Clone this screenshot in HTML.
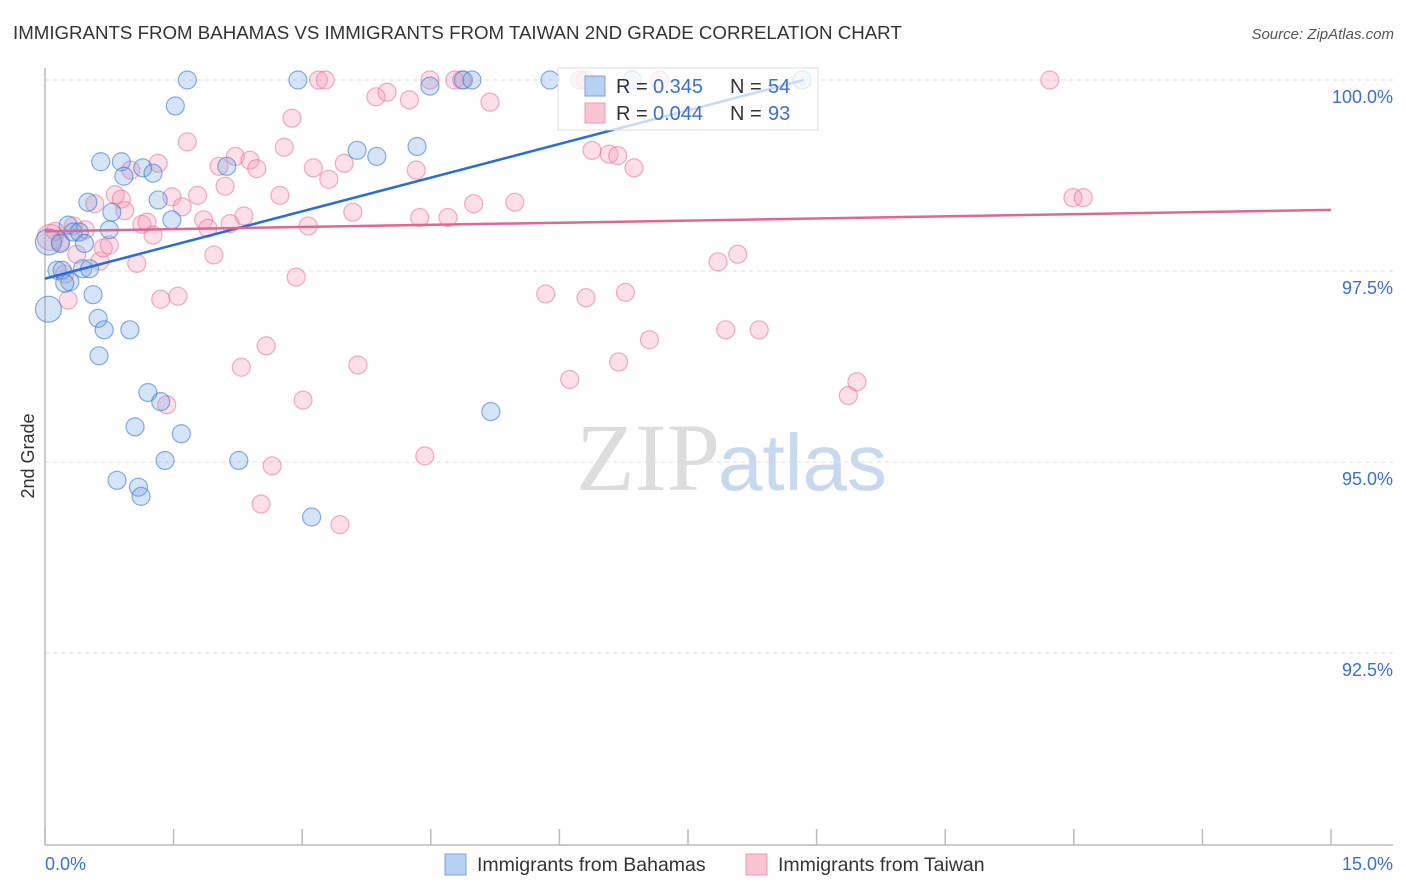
<!DOCTYPE html>
<html><head><meta charset="utf-8">
<style>
body{margin:0;background:#fff;font-family:"Liberation Sans",sans-serif;}
#wrap{position:relative;width:1406px;height:892px;overflow:hidden;}
</style></head>
<body>
<div id="wrap">
<svg id="chart" width="1406" height="892"></svg>
</div>
<script>
const xTicks=[0,1.5,3,4.5,6,7.5,9,10.5,12,13.5,15];
const yTicks=[100,97.5,95,92.5];
const yTickLabels=["100.0%","97.5%","95.0%","92.5%"];
const bahamasX=[0.04,0.04,0.14,0.2,0.27,0.29,0.33,0.4,0.44,0.52,0.56,0.5,0.65,0.62,0.69,0.63,0.75,0.78,0.89,0.92,0.99,1.14,1.26,1.32,1.48,1.52,1.66,1.2,1.35,1.05,1.59,1.4,0.84,1.09,1.12,2.12,2.26,2.95,3.11,3.64,3.87,4.34,4.49,4.88,4.98,5.2,5.89,6.85,8.83,0.18,0.46,0.23];
const bahamasY=[97.88,97.0,97.51,97.51,98.1,97.36,98.01,98.01,97.53,97.53,97.19,98.4,98.93,96.88,96.73,96.39,98.04,98.27,98.93,98.74,96.73,98.85,98.78,98.43,98.17,99.66,100,95.91,95.79,95.46,95.37,95.02,94.76,94.67,94.55,98.87,95.02,100,94.28,99.08,99.0,99.13,99.92,100,100,95.66,100,100,100,97.86,97.86,97.34];
const taiwanX=[0.06,0.12,0.18,0.23,0.27,0.33,0.37,0.47,0.58,0.64,0.68,0.75,0.82,0.89,0.93,1.0,1.07,1.13,1.19,1.26,1.32,1.35,1.48,1.55,1.6,1.66,1.42,1.78,1.85,1.9,1.97,2.03,2.1,2.16,2.22,2.29,2.32,2.39,2.47,2.58,2.65,2.52,2.74,2.79,2.88,2.93,3.01,3.07,3.13,3.19,3.27,3.31,3.44,3.49,3.59,3.65,3.86,3.99,4.25,4.33,4.37,4.43,4.49,4.7,4.78,4.86,5.0,5.19,5.48,5.84,6.12,6.31,6.38,6.58,6.68,6.69,6.77,6.87,7.05,7.17,7.85,7.94,8.08,8.33,9.37,9.47,11.72,11.99,12.11,6.3,6.24];
const taiwanY=[97.94,98.02,97.88,97.46,97.12,98.09,97.72,98.04,98.38,97.63,97.8,97.84,98.5,98.44,98.29,98.82,97.6,98.11,98.14,97.97,98.91,97.13,98.47,97.17,98.34,99.19,95.75,98.49,98.17,98.06,97.71,98.87,98.61,98.12,99.0,96.24,98.22,98.95,98.84,96.52,94.95,94.45,98.49,99.12,99.5,97.42,95.81,98.09,98.85,100,100,98.7,94.18,98.91,98.27,96.27,99.78,99.84,99.74,98.82,98.2,95.08,100,98.2,100,100,98.38,99.71,98.4,97.2,96.08,97.15,99.08,99.03,99.01,96.31,97.22,98.85,96.6,100,97.62,96.73,97.72,96.73,95.87,96.05,100,98.46,98.46,100,100];
const bahamasTrend=[97.4,100];
const bahamasTrendX=[0,8.85];
const taiwanTrend=[98.02,98.3];
const taiwanTrendX=[0,15];

const NS="http://www.w3.org/2000/svg";
const svg=document.getElementById('chart');
const X0=45,X1=1331,Y100=80,PXY=76.4;
const sx=v=>X0+(v/15)*(X1-X0);
const sy=v=>Y100+(100-v)*PXY;
function mk(tag,attrs,parent){const e=document.createElementNS(NS,tag);for(const k in attrs)e.setAttribute(k,attrs[k]);(parent||svg).appendChild(e);return e;}

let t=mk('text',{x:13,y:39,'font-size':18.7,fill:'#333'});


t.textContent='IMMIGRANTS FROM BAHAMAS VS IMMIGRANTS FROM TAIWAN 2ND GRADE CORRELATION CHART';
t=mk('text',{x:1394,y:39,'font-size':15,fill:'#555','text-anchor':'end','font-style':'italic'});


t.textContent='Source: ZipAtlas.com';

t=mk('text',{x:720,y:490,'font-size':96,'text-anchor':'end',fill:'#ddd','font-family':'Liberation Serif, serif'});


t.textContent='ZIP';
t=mk('text',{x:718,y:490,'font-size':80,fill:'#c8d8ee'});


t.textContent='atlas';

yTicks.forEach((v,i)=>{
  const g=mk('line',{x1:X0,x2:1393,y1:sy(v),y2:sy(v),stroke:'#ddd','stroke-dasharray':'4,4'});
  
  
  const l=mk('text',{x:1393,y:sy(v)+23,'font-size':18,fill:'#3b6fd1','text-anchor':'end'});
  
  
  l.textContent=yTickLabels[i];
});
let ax=mk('line',{x1:X0,x2:X0,y1:68,y2:845,stroke:'#bbb','stroke-width':1.5});


ax=mk('line',{x1:X0,x2:1393,y1:845,y2:845,stroke:'#bbb','stroke-width':1.5});


xTicks.forEach(v=>{
  const k=mk('line',{x1:sx(v),x2:sx(v),y1:829,y2:845,stroke:'#bbb','stroke-width':1.5});
  
  
});
t=mk('text',{x:45,y:870,'font-size':18,fill:'#3b6fd1'});


t.textContent='0.0%';
t=mk('text',{x:1393,y:870,'font-size':18,fill:'#3b6fd1','text-anchor':'end'});


t.textContent='15.0%';
t=mk('text',{x:34,y:456,'font-size':18,fill:'#333','text-anchor':'middle',transform:'rotate(-90 34 456)'});


t.textContent='2nd Grade';

taiwanX.forEach((x,i)=>{
  const c=mk('circle',{cx:sx(x),cy:sy(taiwanY[i]),r:i===0?13:9,fill:'rgba(244,150,180,0.3)',stroke:'rgba(232,110,150,0.55)','stroke-width':1.2});
  
  
});
bahamasX.forEach((x,i)=>{
  const c=mk('circle',{cx:sx(x),cy:sy(bahamasY[i]),r:i<2?13:9,fill:'rgba(120,165,230,0.3)',stroke:'rgba(60,120,210,0.6)','stroke-width':1.2});
  
  
});
let ln=mk('line',{x1:sx(bahamasTrendX[0]),y1:sy(bahamasTrend[0]),x2:sx(bahamasTrendX[1]),y2:sy(bahamasTrend[1]),stroke:'#2a6dd6','stroke-width':2.5});


ln=mk('line',{x1:sx(taiwanTrendX[0]),y1:sy(taiwanTrend[0]),x2:sx(taiwanTrendX[1]),y2:sy(taiwanTrend[1]),stroke:'#e4668f','stroke-width':2.5});



const lg=mk('g',{});


mk('rect',{x:558,y:68,width:260,height:62,fill:'rgba(255,255,255,0.75)',stroke:'#ddd'},lg);
mk('rect',{x:585,y:76,width:20,height:20,fill:'#b8d0f2',stroke:'#7aa3e0'},lg);
mk('rect',{x:585,y:103,width:20,height:20,fill:'#f9c4d4',stroke:'#f09ab5'},lg);
[["0.345","54",93],["0.044","93",120]].forEach(r=>{
  let a=mk('text',{x:616,y:r[2],'font-size':20,fill:'#333'},lg);a.textContent='R = ';
  a=mk('text',{x:653,y:r[2],'font-size':20,fill:'#3b6fd1'},lg);a.textContent=r[0];
  a=mk('text',{x:730,y:r[2],'font-size':20,fill:'#333'},lg);a.textContent='N = ';
  a=mk('text',{x:768,y:r[2],'font-size':20,fill:'#3b6fd1'},lg);a.textContent=r[1];
});

const bl=mk('g',{});


mk('rect',{x:445,y:854,width:21,height:21,fill:'#b8d0f2',stroke:'#7aa3e0'},bl);
let b=mk('text',{x:477,y:871,'font-size':19.5,fill:'#333'},bl);b.textContent='Immigrants from Bahamas';
mk('rect',{x:746,y:854,width:21,height:21,fill:'#f9c4d4',stroke:'#f09ab5'},bl);
b=mk('text',{x:778,y:871,'font-size':19.5,fill:'#333'},bl);b.textContent='Immigrants from Taiwan';
</script>
</body></html>
